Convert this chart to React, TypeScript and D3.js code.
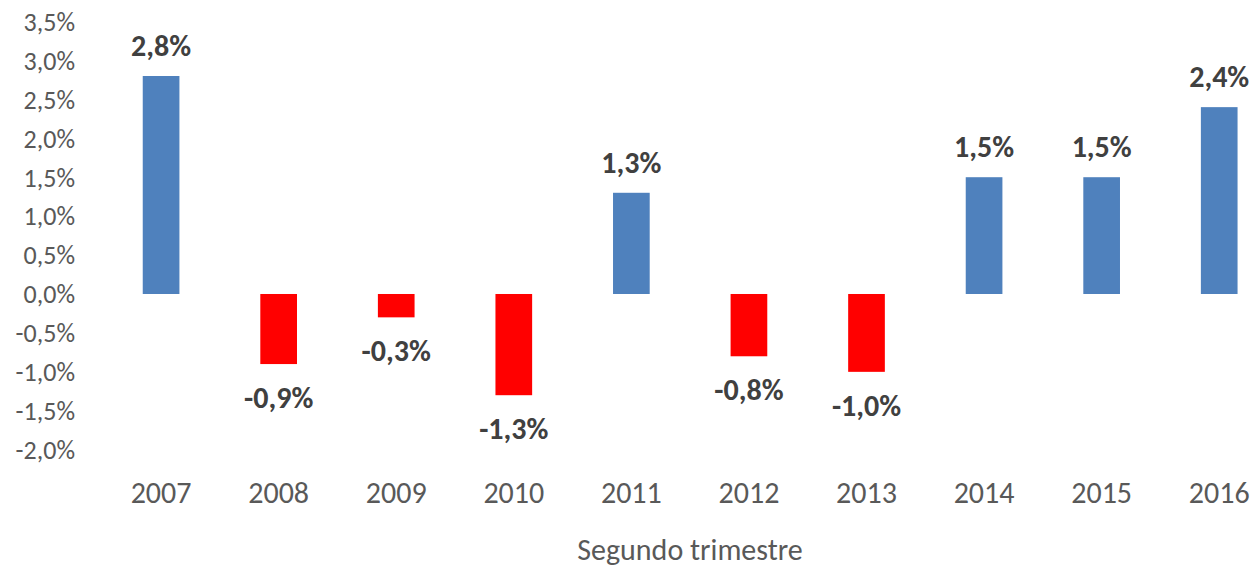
import React from "react";
import * as d3 from "d3";

const years = ["2007", "2008", "2009", "2010", "2011", "2012", "2013", "2014", "2015", "2016"];
const values = [2.8, -0.9, -0.3, -1.3, 1.3, -0.8, -1.0, 1.5, 1.5, 2.4];
const yTicks = [3.5, 3.0, 2.5, 2.0, 1.5, 1.0, 0.5, 0.0, -0.5, -1.0, -1.5, -2.0];
const axisTitle = "Segundo trimestre";

const W = 1260;
const H = 569;
const FONT = "Carlito, Calibri, Lato, 'Open Sans', sans-serif";

const fmt = (v: number) => v.toFixed(1).replace(".", ",") + "%";

export default function App() {
  const x = d3.scaleBand<string>().domain(years).range([102.3, 1278]).paddingInner(0.688).paddingOuter(0.344);
  const y = d3.scaleLinear().domain([-2, 3.5]).range([449.7, 21.5]);
  const y0 = y(0);
  return (
    <svg width={W} height={H} style={{ position: "absolute", left: 0, top: 0, background: "#fff" }}>
      {yTicks.map((t) => (
        <text key={t} x={75} y={y(t)} dy="0.36em" textAnchor="end" fontFamily={FONT} fontSize={26} fill="#595959">
          {fmt(t)}
        </text>
      ))}
      {years.map((yr, i) => {
        const v = values[i];
        const bx = x(yr)!;
        const top = Math.min(y(v), y0);
        const h = Math.abs(y(v) - y0);
        const cx = bx + x.bandwidth() / 2;
        return (
          <g key={yr}>
            <rect x={bx} y={top} width={x.bandwidth()} height={h} fill={v >= 0 ? "#4F81BD" : "#FF0000"} />
            <text
              x={cx}
              y={v >= 0 ? y(v) - 31 : y(v) + 33}
              dy="0.36em"
              textAnchor="middle"
              fontFamily={FONT}
              fontSize={30}
              fontWeight="bold"
              fill="#404040"
            >
              {fmt(v)}
            </text>
            <text x={cx} y={492.5} dy="0.36em" textAnchor="middle" fontFamily={FONT} fontSize={30} fill="#595959">
              {yr}
            </text>
          </g>
        );
      })}
      <text x={690} y={549} dy="0.36em" textAnchor="middle" fontFamily={FONT} fontSize={30} fill="#595959">
        {axisTitle}
      </text>
    </svg>
  );
}
